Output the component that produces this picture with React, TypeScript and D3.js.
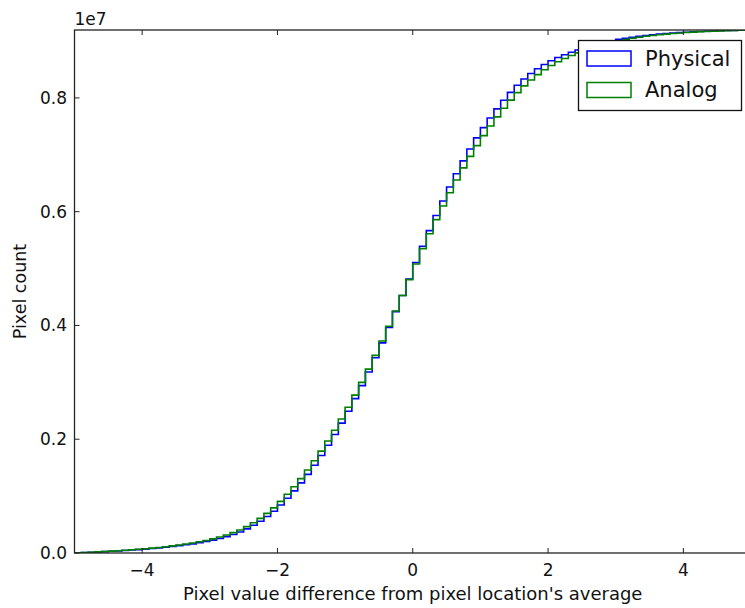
import React from "react";
import * as d3 from "d3";

// Histogram layout: 100 bins of width 0.1 starting at -5
const BIN_START = -5;
const BIN_WIDTH = 0.1;

// Cumulative pixel counts (millions) at the right edge of each bin
const physical = [
  0.004, 0.008, 0.013, 0.018, 0.024, 0.030, 0.037, 0.044, 0.052, 0.060,
  0.069, 0.079, 0.090, 0.102, 0.115, 0.129, 0.144, 0.161, 0.180, 0.201,
  0.226, 0.255, 0.288, 0.326, 0.369, 0.424, 0.487, 0.559, 0.641, 0.733,
  0.843, 0.963, 1.093, 1.233, 1.383, 1.543, 1.713, 1.893, 2.083, 2.283,
  2.493, 2.713, 2.943, 3.183, 3.433, 3.693, 3.963, 4.243, 4.528, 4.818,
  5.108, 5.393, 5.668, 5.933, 6.188, 6.433, 6.668, 6.893, 7.103, 7.298,
  7.478, 7.648, 7.808, 7.958, 8.098, 8.223, 8.333, 8.428, 8.513, 8.588,
  8.653, 8.710, 8.760, 8.804, 8.843, 8.883, 8.919, 8.951, 8.980, 9.006,
  9.029, 9.049, 9.067, 9.083, 9.097, 9.110, 9.121, 9.131, 9.140, 9.148,
  9.155, 9.161, 9.167, 9.172, 9.177, 9.181, 9.185, 9.188, 9.191, 9.194,
];

const analog = [
  0.004, 0.009, 0.014, 0.020, 0.026, 0.033, 0.040, 0.048, 0.056, 0.065,
  0.075, 0.086, 0.098, 0.111, 0.125, 0.140, 0.157, 0.176, 0.197, 0.220,
  0.248, 0.280, 0.316, 0.358, 0.405, 0.464, 0.532, 0.609, 0.696, 0.793,
  0.908, 1.032, 1.165, 1.308, 1.460, 1.621, 1.791, 1.970, 2.158, 2.355,
  2.561, 2.776, 3.000, 3.233, 3.475, 3.726, 3.986, 4.255, 4.528, 4.805,
  5.081, 5.351, 5.611, 5.861, 6.101, 6.333, 6.556, 6.771, 6.973, 7.162,
  7.338, 7.506, 7.666, 7.818, 7.962, 8.093, 8.211, 8.315, 8.410, 8.495,
  8.570, 8.636, 8.694, 8.746, 8.792, 8.838, 8.879, 8.916, 8.949, 8.979,
  9.005, 9.028, 9.049, 9.067, 9.083, 9.098, 9.111, 9.122, 9.132, 9.141,
  9.149, 9.156, 9.162, 9.168, 9.173, 9.178, 9.182, 9.186, 9.189, 9.193,
];

const seriesNames = ["Physical", "Analog"];
const seriesColors = ["#0000ff", "#008000"];

const xTicks = [-4, -2, 0, 2, 4];
const yTicks = [0, 0.2, 0.4, 0.6, 0.8]; // in units of 1e7

const W = 745;
const H = 608;
const M = { left: 74.5, top: 30, right: 751, bottom: 553 };
const FONT = "'DejaVu Sans', sans-serif";

export default function App() {
  const unit = 1e6;
  const ymax = d3.max([...physical, ...analog])! * unit;
  const x = d3.scaleLinear().domain([-5, 5]).range([M.left, M.right]);
  const y = d3.scaleLinear().domain([0, ymax]).range([M.bottom, M.top]);

  const stepPath = (vals: number[]) => {
    const pts: [number, number][] = [[BIN_START, 0]];
    vals.forEach((v, i) => pts.push([BIN_START + i * BIN_WIDTH, v * unit]));
    pts.push([BIN_START + vals.length * BIN_WIDTH, 0]);
    return d3
      .line<[number, number]>()
      .x((d) => x(d[0]))
      .y((d) => y(d[1]))
      .curve(d3.curveStepAfter)(pts)!;
  };

  const data = [physical, analog];
  const tickLen = 5;

  return (
    <svg
      width={W}
      height={H}
      style={{ position: "absolute", left: 0, top: 0, background: "#fff" }}
      fontFamily={FONT}
    >
      <defs>
        <clipPath id="plot-area">
          <rect x={M.left} y={M.top} width={M.right - M.left} height={M.bottom - M.top} />
        </clipPath>
      </defs>
      <rect width={W} height={H} fill="#fff" />

      <g clipPath="url(#plot-area)">
        {data.map((vals, i) => (
          <path
            key={seriesNames[i]}
            d={stepPath(vals)}
            fill="none"
            stroke={seriesColors[i]}
            strokeWidth={1.6}
          />
        ))}
      </g>

      {/* frame */}
      <rect
        x={M.left}
        y={M.top}
        width={M.right - M.left}
        height={M.bottom - M.top}
        fill="none"
        stroke="#222"
        strokeWidth={1.3}
      />

      {/* x ticks (inward, top and bottom) */}
      {xTicks.map((t) => (
        <g key={"x" + t}>
          <line x1={x(t)} x2={x(t)} y1={M.bottom} y2={M.bottom - tickLen} stroke="#222" strokeWidth={1} />
          <line x1={x(t)} x2={x(t)} y1={M.top} y2={M.top + tickLen} stroke="#222" strokeWidth={1} />
          <text x={x(t)} y={576} textAnchor="middle" fontSize={17} fill="#111">
            {t < 0 ? "\u2212" + Math.abs(t) : String(t)}
          </text>
        </g>
      ))}

      {/* y ticks */}
      {yTicks.map((t) => (
        <g key={"y" + t}>
          <line x1={M.left} x2={M.left + tickLen} y1={y(t * 1e7)} y2={y(t * 1e7)} stroke="#222" strokeWidth={1} />
          <text x={67} y={y(t * 1e7)} dy="0.35em" textAnchor="end" fontSize={17} fill="#111">
            {t.toFixed(1)}
          </text>
        </g>
      ))}
      <text x={M.left} y={25} fontSize={17} fill="#111">1e7</text>

      {/* axis labels */}
      <text x={(M.left + M.right) / 2} y={600} textAnchor="middle" fontSize={18} fill="#111">
        Pixel value difference from pixel location's average
      </text>
      <text
        transform={`translate(26, ${(M.top + M.bottom) / 2}) rotate(-90)`}
        textAnchor="middle"
        fontSize={17.5}
        fill="#111"
      >
        Pixel count
      </text>

      {/* legend */}
      <g>
        <rect x={578.5} y={40.5} width={163} height={70} fill="#fff" stroke="#111" strokeWidth={1.3} />
        {seriesNames.map((name, i) => (
          <g key={name}>
            <rect
              x={587}
              y={51 + i * 31.5}
              width={44}
              height={15}
              fill="none"
              stroke={seriesColors[i]}
              strokeWidth={1.5}
            />
            <text x={645} y={58.5 + i * 31.5} dy="0.35em" fontSize={21} fill="#111">
              {name}
            </text>
          </g>
        ))}
      </g>
    </svg>
  );
}
